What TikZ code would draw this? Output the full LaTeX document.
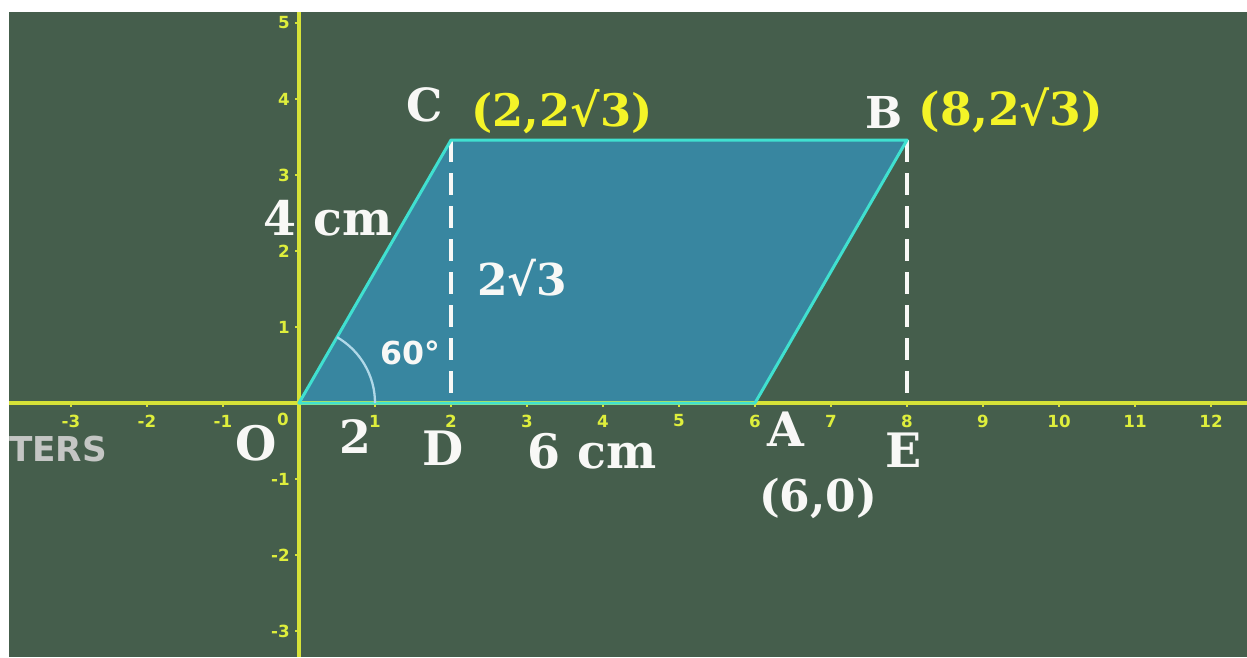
\documentclass[tikz,border=0pt]{standalone}
\usepackage{fontspec}
\newfontfamily\lblfont{DejaVu Serif}
\newfontfamily\tickfont{DejaVu Sans}
\definecolor{board}{RGB}{69,94,76}
\definecolor{axisyel}{RGB}{214,226,56}
\definecolor{ticktxt}{RGB}{222,238,60}
\definecolor{coordyel}{RGB}{244,244,40}
\definecolor{shapefill}{RGB}{56,134,160}
\definecolor{shapeedge}{RGB}{64,224,208}
\definecolor{arccol}{RGB}{176,216,232}
\definecolor{offwhite}{RGB}{248,248,246}
\definecolor{watergray}{RGB}{196,198,196}
\tikzset{
  axisline/.style={draw=axisyel, line width=1.8pt},
  tickmark/.style={draw=axisyel, line width=1.2pt},
  ticklbl/.style={text=ticktxt, font=\tickfont\bfseries\fontsize{9.5}{10}\selectfont, inner sep=0pt},
  lbl/.style={text=offwhite, font=\lblfont\bfseries\fontsize{#1}{#1}\selectfont, inner sep=0pt},
  ylbl/.style={text=coordyel, font=\lblfont\bfseries\fontsize{#1}{#1}\selectfont, inner sep=0pt},
  dashline/.style={draw=offwhite, line width=2.8pt, dash pattern=on 12.5pt off 6.3pt},
}
\begin{document}
\begin{tikzpicture}[x=0.02cm, y=-0.02cm]
\useasboundingbox (0,0) rectangle (1247,657);
\fill[white] (0,0) rectangle (1247,657);
\fill[board] (9,12) rectangle (1247,657);
% parallelogram
\coordinate (O) at (299,403);
\coordinate (A) at (755,403);
\coordinate (B) at (907,140);
\coordinate (C) at (451,140);
\coordinate (D) at (451,403);
\coordinate (E) at (907,403);
\fill[shapefill] (O) -- (A) -- (B) -- (C) -- cycle;
% axes
\draw[axisline] (9,403) -- (1247,403);
\draw[axisline] (299,12) -- (299,657);
\foreach \k in {-3,-2,-1,1,2,3,4,5,6,7,8,9,10,11,12}{
  \draw[tickmark] ({299+76*\k},403) -- ({299+76*\k},407);
  \node[ticklbl] at ({299+76*\k},421) {\k};
}
\node[ticklbl] at (283,419) {0};
\foreach \k in {-3,-2,-1,1,2,3,4,5}{
  \draw[tickmark] (299,{403-76*\k}) -- (295,{403-76*\k});
  \node[ticklbl, anchor=east] at (290,{403-76*\k}) {\k};
}
% dashed heights
\draw[dashline] (C) -- (D);
\draw[dashline] (B) -- (E);
% outline
\draw[shapeedge, line width=1.7pt, line join=round] (O) -- (A) -- (B) -- (C) -- cycle;
% angle arc
\draw[arccol, line width=1.3pt] (375,403) arc[start angle=0, end angle=-60, radius=76];
% labels
\node[lbl=26] (Cl) at (425,105) {C};
\node[ylbl=25.5] (Cc) at (562,112) {(2,2√3)};
\node[lbl=25] (Bl) at (884,112) {B};
\node[ylbl=26] (Bc) at (1011,110) {(8,2√3)};
\node[lbl=27] (side) at (328,218) {4 cm};
\node[lbl=25] (ht) at (522,278) {2√3};
\node[text=offwhite, font=\tickfont\bfseries\fontsize{18}{18}\selectfont, inner sep=0pt] (ang) at (410,353) {60°};
\node[lbl=26] (two) at (355,437) {2};
\node[lbl=27] (Dl) at (443,448) {D};
\node[lbl=27] (base) at (592,451) {6 cm};
\node[lbl=27] (Ol) at (256,443) {O};
\node[lbl=27] (Al) at (786,429) {A};
\node[lbl=27] (El) at (904,450) {E};
\node[lbl=25] (Ac) at (818,498) {(6,0)};
\node[text=watergray, font=\tickfont\bfseries\fontsize{19.5}{19.5}\selectfont, inner sep=0pt] (wm) at (58,449) {TERS};
\end{tikzpicture}
\end{document}
